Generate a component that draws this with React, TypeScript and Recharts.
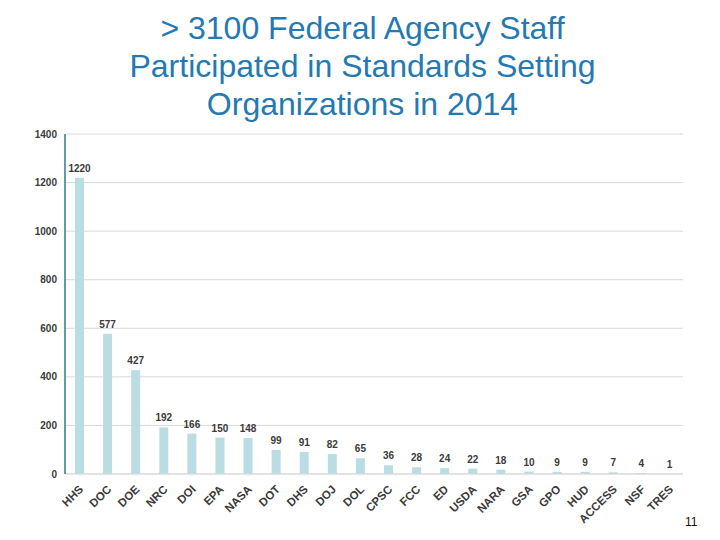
import React from "react";
import { BarChart, Bar, XAxis, YAxis, CartesianGrid, LabelList } from "recharts";

const agencies = [
  "HHS", "DOC", "DOE", "NRC", "DOI", "EPA", "NASA", "DOT", "DHS", "DOJ", "DOL",
  "CPSC", "FCC", "ED", "USDA", "NARA", "GSA", "GPO", "HUD", "ACCESS", "NSF", "TRES",
];
const staff = [1220, 577, 427, 192, 166, 150, 148, 99, 91, 82, 65, 36, 28, 24, 22, 18, 10, 9, 9, 7, 4, 1];
const yTicks = [0, 200, 400, 600, 800, 1000, 1200, 1400];

const titleLines = [
  "> 3100 Federal Agency Staff",
  "Participated in Standards Setting",
  "Organizations in 2014",
];

const data = agencies.map((name, i) => ({ name, value: staff[i] }));

const TEAL = "#2c7c88";
const BAR = "#b9dde2";
const GRID = "#d9d9d9";
const TEXT = "#3a3a3a";

const AgencyTick = (props: any) => {
  const { x, y, payload } = props;
  const ax = x + 5;
  const ay = y + 8;
  return (
    <text
      x={ax}
      y={ay}
      transform={`rotate(-45, ${ax}, ${ay})`}
      textAnchor="end"
      fontSize={11.5}
      fontWeight="bold"
      fill={TEXT}
      fontFamily="Liberation Sans, Arial, sans-serif"
    >
      {payload.value}
    </text>
  );
};

export default function App() {
  return (
    <div style={{ position: "absolute", left: 0, top: 0, width: 720, height: 540, background: "#fff" }}>
      <div
        style={{
          position: "absolute",
          left: 0,
          top: 9,
          width: 725,
          textAlign: "center",
          color: "#2479b2",
          fontFamily: "Liberation Sans, Arial, sans-serif",
          fontSize: 32,
          lineHeight: "38px",
        }}
      >
        {titleLines.map((t) => (
          <div key={t}>{t}</div>
        ))}
      </div>
      <BarChart
        width={720}
        height={540}
        data={data}
        margin={{ top: 134, right: 37, left: 15, bottom: 16 }}
        style={{ position: "absolute", left: 0, top: 0 }}
      >
        <CartesianGrid vertical={false} stroke={GRID} />
        <XAxis
          dataKey="name"
          interval={0}
          height={50}
          tickLine={false}
          axisLine={{ stroke: GRID }}
          tick={<AgencyTick />}
        />
        <YAxis
          width={50}
          domain={[0, 1400]}
          ticks={yTicks}
          tickLine={false}
          axisLine={{ stroke: TEAL, strokeWidth: 1.5 }}
          tick={{ fontSize: 10, fontWeight: "bold", fill: TEXT, fontFamily: "Liberation Sans, Arial, sans-serif" }}
        />
        <YAxis
          yAxisId="r"
          orientation="right"
          width={0}
          domain={[0, 1400]}
          tick={false}
          tickLine={false}
          axisLine={{ stroke: TEAL, strokeWidth: 1.5 }}
        />
        <Bar dataKey="value" fill={BAR} barSize={9} isAnimationActive={false}>
          <LabelList
            dataKey="value"
            position="top"
            offset={6}
            fontSize={10}
            fontWeight="bold"
            fill={TEXT}
            fontFamily="Liberation Sans, Arial, sans-serif"
          />
        </Bar>
      </BarChart>
      <div
        style={{
          position: "absolute",
          left: 685,
          top: 515,
          fontSize: 12,
          fontFamily: "Liberation Sans, Arial, sans-serif",
          color: "#111",
        }}
      >
        11
      </div>
    </div>
  );
}
